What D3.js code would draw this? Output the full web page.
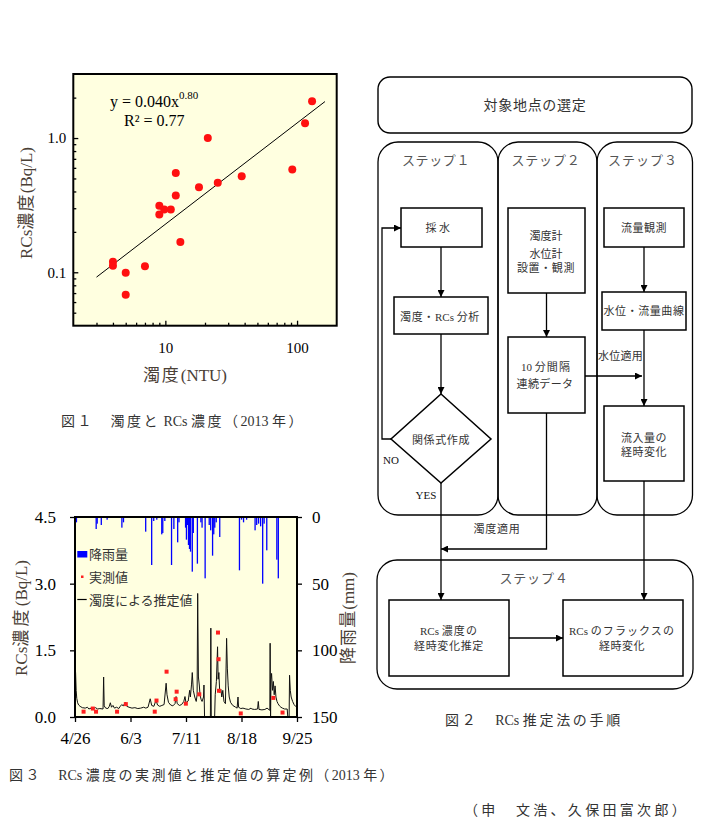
<!DOCTYPE html>
<html><head><meta charset="utf-8">
<script src="https://cdn.jsdelivr.net/npm/d3@7"></script>
<style>body{margin:0;background:#fff}svg{display:block}</style>
</head><body><svg id="c" width="705" height="837"></svg>
<script>
// ================= DATA =================
// Fig.1 : turbidity (NTU) vs RCs concentration (Bq/L)
const turbidity = [4.0, 4.0, 5.0, 5.0, 7.0, 9.0, 9.0, 9.8, 11, 12, 12, 13, 18, 21, 25, 38, 92, 115, 130];
const rcsConc   = [0.12, 0.112, 0.099, 0.068, 0.111, 0.313, 0.27, 0.294, 0.294, 0.55, 0.373, 0.168, 0.43, 1.0, 0.464, 0.52, 0.584, 1.29, 1.88];
const trendX = [3, 163];
const trendY = [0.092, 1.87];
const f1XMajor = [10, 100];
const f1XMinor = [3, 4, 5, 6, 7, 8, 9, 20, 30, 40, 50, 60, 70, 80, 90];
const f1YMajor = [0.1, 1];
const f1YMinor = [0.05, 0.06, 0.07, 0.08, 0.09, 0.2, 0.3, 0.4, 0.5, 0.6, 0.7, 0.8, 0.9, 2];

// Fig.3 : days since 2013-04-26
const dateTickDays = [0, 38, 76, 114, 152];
const dateTickLabels = ["4/26", "6/3", "7/11", "8/18", "9/25"];
const concTicks = [0, 1.5, 3.0, 4.5];
const rainTicks = [0, 50, 100, 150];
const rainDay = [1.0, 14.5, 15.2, 18, 22, 32.1, 33.2, 48.4, 52.5, 53.9, 56, 59.4, 60.1, 61.5, 66.1, 67.7, 70.3, 71.2,
  75.7, 76.3, 77, 77.7, 78.4, 79.1, 80.3, 81, 83.8, 86.2, 87, 89.1, 91.9, 92.9, 94.2, 95, 95.7, 96.7, 99.1,
  112.6, 114, 115.4, 117.5, 123.3, 124.4, 125.7, 127.1, 128.5, 129.5, 131.3, 138.2, 139.2];
const rainMm = [4, 9, 5, 6, 2, 8, 4, 11, 36, 3, 2, 13, 12, 3, 36, 9, 19, 4,
  8, 17, 6, 21, 24, 26, 41, 12, 35, 4, 8, 46, 6, 10, 29, 13, 8, 4, 15,
  40, 2, 4, 2, 10, 6, 5, 7, 50, 5, 25, 32, 46];
const measuredDay = [5.87, 12.2, 14.4, 28.8, 34.8, 54.6, 55.8, 62.7, 68.9, 69.6, 75.9, 85.1, 97.9, 98.3, 98.6, 113.5, 135.8, 142.1];
const measuredVal = [0.12, 0.19, 0.12, 0.12, 0.29, 0.12, 0.37, 1.02, 0.40, 0.57, 0.30, 0.51, 1.90, 1.30, 0.59, 0.08, 0.43, 0.10];
const estimated = [[0,1.02],[0.4,1.0],[0.8,0.6],[1.2,0.42],[1.8,0.32],[2.5,0.27],[3.5,0.24],[5,0.21],[7,0.2],[8.5,0.22],[9.5,0.18],[11,0.2],[12.5,0.19],[14,0.21],[15.5,0.18],[17,0.19],[19.2,0.18],[19.6,0.9],[20,0.25],[21,0.2],[22.5,0.19],[23.5,0.24],[24.2,0.32],[25,0.22],[26,0.26],[27,0.2],[28.5,0.22],[30,0.19],[31,0.24],[32,0.28],[33,0.25],[34.5,0.33],[35.5,0.24],[37,0.22],[39,0.2],[41,0.21],[43,0.19],[45,0.2],[47,0.22],[48.5,0.2],[50,0.22],[51.5,0.41],[52.5,0.26],[54,0.24],[55.5,0.38],[56.5,0.27],[58,0.24],[59.5,0.26],[61,0.28],[62.4,0.76],[63,0.5],[64,0.33],[65.5,0.27],[67,0.25],[68.5,0.3],[69.2,0.46],[70,0.3],[71.5,0.26],[73,0.28],[74.5,0.35],[75.3,0.46],[76,0.32],[77.5,0.36],[78.5,0.6],[79,0.45],[79.8,0.74],[80.3,1.0],[81,0.6],[82,0.45],[83,0.35],[83.6,0.5],[84,2.78],[84.5,0.9],[85.1,0.72],[85.6,0.5],[86.3,0.4],[87,0.35],[88,0.45],[88.3,0.72],[88.7,0],[92.7,0],[93,2.0],[93.3,0],[95.6,0],[96,0.5],[96.8,0.8],[97.6,1.58],[98,0.85],[98.5,1.0],[99.1,0.55],[99.9,0.62],[100.5,0.45],[101.2,0.6],[102,0.35],[103,0.3],[103.8,1.77],[104.3,1.1],[104.9,0.7],[105.6,0.45],[106.5,0.33],[108,0.26],[110,0.22],[111,0.2],[111.6,0.45],[112,0.22],[113.5,0.19],[115,0.2],[117,0.18],[119,0.17],[120.5,0.2],[121,0.18],[123,0.17],[125,0.18],[125.5,0.35],[126,0.17],[128,0.16],[130,0.17],[131.5,0.2],[133,0.16],[133.4,0.15],[133.6,1.66],[133.9,0],[134.2,0.85],[134.6,0.98],[135.2,0.6],[135.8,0.8],[136.4,0.5],[137,0.7],[137.6,0.45],[138.3,0.35],[139,0.3],[140,0.25],[141,0.22],[142,0.2],[143.5,0.18],[145.3,0.18],[145.7,0],[146.6,0],[146.9,0.94],[147.4,0.6],[148,0.45],[149,0.35],[150,0.28],[151,0.24],[152,0.22]];

// ================= DRAW =================
const FONT = "'Liberation Serif','Noto Sans CJK JP',serif";
const TITLE_C = "#4a4036";
const svg = d3.select("#c").attr("font-family", FONT);
svg.append("rect").attr("width", 705).attr("height", 837).attr("fill", "#fff");

function txt(g, x, y, s, o = {}) {
  const t = g.append("text").attr("x", x).attr("y", y)
    .attr("font-size", o.size || 11).attr("fill", o.fill || "#333")
    .attr("text-anchor", o.anchor || "middle").attr("font-family", FONT);
  if (o.rot) t.attr("transform", `rotate(${o.rot},${x},${y})`);
  if (o.len) {
    const runs = s.match(/[\x20-\x7E]+|[^\x20-\x7E]+/g);
    const spans = runs.map(r => t.append("tspan").text(r).datum(/[^\x20-\x7E]/.test(r) ? r.length : 0));
    const w0 = t.node().getComputedTextLength();
    const n = d3.sum(spans, sp => sp.datum());
    const ls = n ? (o.len - w0) / n : 0;
    spans.forEach(sp => { if (sp.datum()) sp.attr("letter-spacing", ls); });
  } else t.text(s);
  return t;
}
function styleAxis(a, size) {
  a.attr("font-family", FONT).attr("font-size", size);
  a.selectAll("text").attr("fill", "#000");
  a.selectAll("line").attr("stroke", "#000").attr("stroke-width", 1.3);
}

// ---------- Fig.1 ----------
const f1 = {l: 73.3, r: 336.7, t: 74, b: 325.7};
const xs1 = d3.scaleLog().domain([2, 200]).range([f1.l, f1.r]);
const ys1 = d3.scaleLog().domain([0.04, 3]).range([f1.b, f1.t]);
const g1 = svg.append("g");
g1.append("rect").attr("x", f1.l).attr("y", f1.t).attr("width", f1.r - f1.l).attr("height", f1.b - f1.t).attr("fill", "#ffffe0");
let a;
a = g1.append("g").attr("transform", `translate(0,${f1.b})`).call(d3.axisBottom(xs1).tickValues(f1XMinor).tickSize(-3).tickFormat(""));
a.select(".domain").remove(); styleAxis(a, 15);
a = g1.append("g").attr("transform", `translate(0,${f1.b})`).call(d3.axisBottom(xs1).tickValues(f1XMajor).tickSize(-5).tickPadding(17).tickFormat(d3.format("d")));
a.select(".domain").remove(); styleAxis(a, 15);
a = g1.append("g").attr("transform", `translate(${f1.l},0)`).call(d3.axisLeft(ys1).tickValues(f1YMinor).tickSize(-3).tickFormat(""));
a.select(".domain").remove(); styleAxis(a, 15);
a = g1.append("g").attr("transform", `translate(${f1.l},0)`).call(d3.axisLeft(ys1).tickValues(f1YMajor).tickSize(-5).tickPadding(7).tickFormat(d => d.toFixed(1)));
a.select(".domain").remove(); styleAxis(a, 15);

g1.append("path").datum(d3.zip(trendX, trendY))
  .attr("d", d3.line().x(d => xs1(d[0])).y(d => ys1(d[1])))
  .attr("stroke", "#000").attr("stroke-width", 1).attr("fill", "none");
g1.selectAll("circle.pt").data(d3.zip(turbidity, rcsConc)).join("circle")
  .attr("cx", d => xs1(d[0])).attr("cy", d => ys1(d[1])).attr("r", 4).attr("fill", "#ff1010");
g1.append("rect").attr("x", f1.l).attr("y", f1.t).attr("width", f1.r - f1.l).attr("height", f1.b - f1.t)
  .attr("fill", "none").attr("stroke", "#000").attr("stroke-width", 2);
const eq = txt(g1, 110, 107, "y = 0.040x", {size: 16, anchor: "start", fill: "#000"});
eq.append("tspan").attr("dy", -8).attr("font-size", 11).text("0.80");
txt(g1, 124, 126, "R² = 0.77", {size: 16, anchor: "start", fill: "#000"});
txt(g1, 32, 203, "RCs濃度(Bq/L)", {size: 17, rot: -90, fill: TITLE_C, len: 112});
txt(g1, 185, 381, "濁度(NTU)", {size: 17, fill: TITLE_C, len: 84});

// ---------- Fig.3 ----------
const f3 = {l: 75, r: 297, t: 517, b: 717};
const t0 = new Date(Date.UTC(2013, 3, 26));
const dayToDate = d => new Date(t0.getTime() + d * 864e5);
const xs3 = d3.scaleUtc().domain([t0, dayToDate(152)]).range([f3.l, f3.r]);
const yL3 = d3.scaleLinear().domain([0, 4.5]).range([f3.b, f3.t]);
const yR3 = d3.scaleLinear().domain([0, 150]).range([f3.t, f3.b]);
const g3 = svg.append("g");
g3.append("rect").attr("x", f3.l).attr("y", f3.t).attr("width", f3.r - f3.l).attr("height", f3.b - f3.t).attr("fill", "#ffffe0");
g3.append("clipPath").attr("id", "clip3").append("rect").attr("x", f3.l).attr("y", f3.t).attr("width", f3.r - f3.l).attr("height", f3.b - f3.t);
const gin = g3.append("g").attr("clip-path", "url(#clip3)");
gin.selectAll("rect.rain").data(d3.zip(rainDay, rainMm)).join("rect")
  .attr("x", d => xs3(dayToDate(d[0])) - 0.65).attr("width", 1.3)
  .attr("y", f3.t).attr("height", d => yR3(d[1]) - f3.t).attr("fill", "#0000ff");
gin.append("path").datum(estimated)
  .attr("d", d3.line().x(d => xs3(dayToDate(d[0]))).y(d => yL3(d[1])))
  .attr("fill", "none").attr("stroke", "#111").attr("stroke-width", 1);
gin.selectAll("rect.meas").data(d3.zip(measuredDay, measuredVal)).join("rect")
  .attr("x", d => xs3(dayToDate(d[0])) - 2).attr("y", d => yL3(d[1]) - 2)
  .attr("width", 4).attr("height", 4).attr("fill", "#ff2020");

a = g3.append("g").attr("transform", `translate(${f3.l},0)`).call(d3.axisLeft(yL3).tickValues(concTicks).tickSize(5).tickPadding(14).tickSizeOuter(0).tickFormat(d => d.toFixed(1)));
a.select(".domain").remove(); styleAxis(a, 17);
a = g3.append("g").attr("transform", `translate(${f3.r},0)`).call(d3.axisRight(yR3).tickValues(rainTicks).tickSize(5).tickPadding(10).tickSizeOuter(0));
a.select(".domain").remove(); styleAxis(a, 17);
a = g3.append("g").attr("transform", `translate(0,${f3.b})`).call(d3.axisBottom(xs3).tickValues(dateTickDays.map(dayToDate)).tickSize(5).tickPadding(10).tickSizeOuter(0).tickFormat((d, i) => dateTickLabels[i]));
a.select(".domain").remove(); styleAxis(a, 17);
g3.append("rect").attr("x", f3.l).attr("y", f3.t).attr("width", f3.r - f3.l).attr("height", f3.b - f3.t)
  .attr("fill", "none").attr("stroke", "#000").attr("stroke-width", 2);

// legend
const lg = g3.append("g");
lg.append("rect").attr("x", f3.l + 2.3).attr("y", 551).attr("width", 10).attr("height", 6.5).attr("fill", "#0000ff");
txt(lg, f3.l + 14, 559, "降雨量", {size: 13, anchor: "start", fill: "#333"});
lg.append("rect").attr("x", f3.l + 6).attr("y", 575.5).attr("width", 2.5).attr("height", 2.5).attr("fill", "#ff2020");
txt(lg, f3.l + 14, 582, "実測値", {size: 13, anchor: "start", fill: "#333"});
lg.append("line").attr("x1", f3.l + 2.3).attr("x2", f3.l + 11.7).attr("y1", 599.5).attr("y2", 599.5).attr("stroke", "#000").attr("stroke-width", 1.2);
txt(lg, f3.l + 14, 605, "濁度による推定値", {size: 13, anchor: "start", fill: "#333"});

txt(g3, 27, 618, "RCs濃度(Bq/L)", {size: 17, rot: -90, fill: TITLE_C, len: 116});
txt(g3, 354, 618, "降雨量(mm)", {size: 17, rot: -90, fill: TITLE_C, len: 92});

// ---------- Fig.2 flowchart ----------
const fc = svg.append("g");
const defs = svg.append("defs");
defs.append("marker").attr("id", "ah").attr("markerUnits", "userSpaceOnUse")
  .attr("markerWidth", 8).attr("markerHeight", 7).attr("refX", 7).attr("refY", 3.5).attr("orient", "auto")
  .append("path").attr("d", "M0,0 L7,3.5 L0,7 z").attr("fill", "#000");
function rr(x, y, w, h, r, sw) {
  fc.append("rect").attr("x", x).attr("y", y).attr("width", w).attr("height", h).attr("rx", r).attr("ry", r)
    .attr("fill", "none").attr("stroke", "#000").attr("stroke-width", sw);
}
function path(pts, arrow = true) {
  const p = fc.append("path").attr("d", d3.line()(pts)).attr("fill", "none").attr("stroke", "#000").attr("stroke-width", 1.3);
  if (arrow) p.attr("marker-end", "url(#ah)");
}
const FT = "#333";
rr(378, 77, 314, 56, 12, 1.4);
txt(fc, 535, 110, "対象地点の選定", {size: 14, len: 103, fill: FT});
rr(378, 142, 120, 373, 20, 1.3);
rr(498, 142, 99, 373, 20, 1.3);
rr(597, 142, 95.5, 373, 20, 1.3);
txt(fc, 436, 165, "ステップ１", {size: 13, len: 68, fill: "#555"});
txt(fc, 546, 165, "ステップ２", {size: 13, len: 69, fill: "#555"});
txt(fc, 643, 165, "ステップ３", {size: 13, len: 70, fill: "#555"});
rr(377, 560, 316, 129, 20, 1.3);
txt(fc, 534, 583, "ステップ４", {size: 13, len: 69, fill: "#555"});

rr(401, 208, 81, 39, 0, 1.5);
txt(fc, 439, 232, "採水", {len: 27, fill: FT});
rr(394, 297, 94, 37, 0, 1.5);
txt(fc, 440, 321, "濁度・RCs 分析", {len: 80, fill: FT});
fc.append("path").attr("d", "M441,394 L491,439 L441,483 L391,439 Z").attr("fill", "none").attr("stroke", "#000").attr("stroke-width", 1.5);
txt(fc, 441, 443.5, "関係式作成", {len: 58, fill: FT});
rr(508, 208, 77, 85, 0, 1.5);
txt(fc, 546, 240, "濁度計", {len: 33, fill: FT});
txt(fc, 546, 257.5, "水位計", {len: 33, fill: FT});
txt(fc, 546, 272, "設置・観測", {len: 58, fill: FT});
rr(508, 337, 77, 76, 0, 1.5);
txt(fc, 546, 371, "10 分間隔", {len: 50, fill: FT});
txt(fc, 545, 388, "連続データ", {len: 57, fill: FT});
rr(604, 208, 80, 39, 0, 1.5);
txt(fc, 644, 232, "流量観測", {len: 46, fill: FT});
rr(602, 292, 84, 38, 0, 1.5);
txt(fc, 644, 315, "水位・流量曲線", {len: 81, fill: FT});
rr(604, 406, 80, 75, 0, 1.5);
txt(fc, 644, 441.5, "流入量の", {len: 46, fill: FT});
txt(fc, 644, 456, "経時変化", {len: 46, fill: FT});
rr(389, 600, 120, 76, 0, 1.5);
txt(fc, 449, 635, "RCs 濃度の", {len: 58, fill: FT});
txt(fc, 449, 650, "経時変化推定", {len: 70, fill: FT});
rr(563, 600, 120, 76, 0, 1.5);
txt(fc, 622, 635, "RCs のフラックスの", {len: 106, fill: FT});
txt(fc, 622, 650, "経時変化", {len: 46, fill: FT});

path([[441, 247], [441, 297]]);
path([[441, 334], [441, 394]]);
path([[391, 439], [382, 439], [382, 228], [401, 228]]);
path([[441, 483], [441, 600]]);
path([[546.5, 293], [546.5, 337]]);
path([[585, 376], [642, 376]]);
path([[546.5, 413], [546.5, 549], [441, 549]]);
path([[644, 247], [644, 292]]);
path([[644, 330], [644, 406]]);
path([[644, 481], [644, 600]]);
path([[509, 638], [563, 638]]);
txt(fc, 598, 360, "水位適用", {anchor: "start", len: 45, fill: FT});
txt(fc, 497, 533, "濁度適用", {len: 47, fill: FT});
txt(fc, 383, 463.5, "NO", {anchor: "start", size: 11, fill: "#111"});
txt(fc, 426, 498.5, "YES", {size: 11, fill: "#111"});

// captions
txt(svg, 534, 725, "図２　RCs 推定法の手順", {size: 14, len: 178, fill: "#333"});
txt(svg, 61, 426, "図１　濁度と RCs 濃度（2013 年）", {size: 14, anchor: "start", len: 244, fill: "#333"});
txt(svg, 9, 780, "図３　RCs 濃度の実測値と推定値の算定例（2013 年）", {size: 14, anchor: "start", len: 387, fill: "#333"});
txt(svg, 464, 815, "（申　文浩、久保田富次郎）", {size: 14, anchor: "start", len: 225, fill: "#333"});
</script></body></html>
